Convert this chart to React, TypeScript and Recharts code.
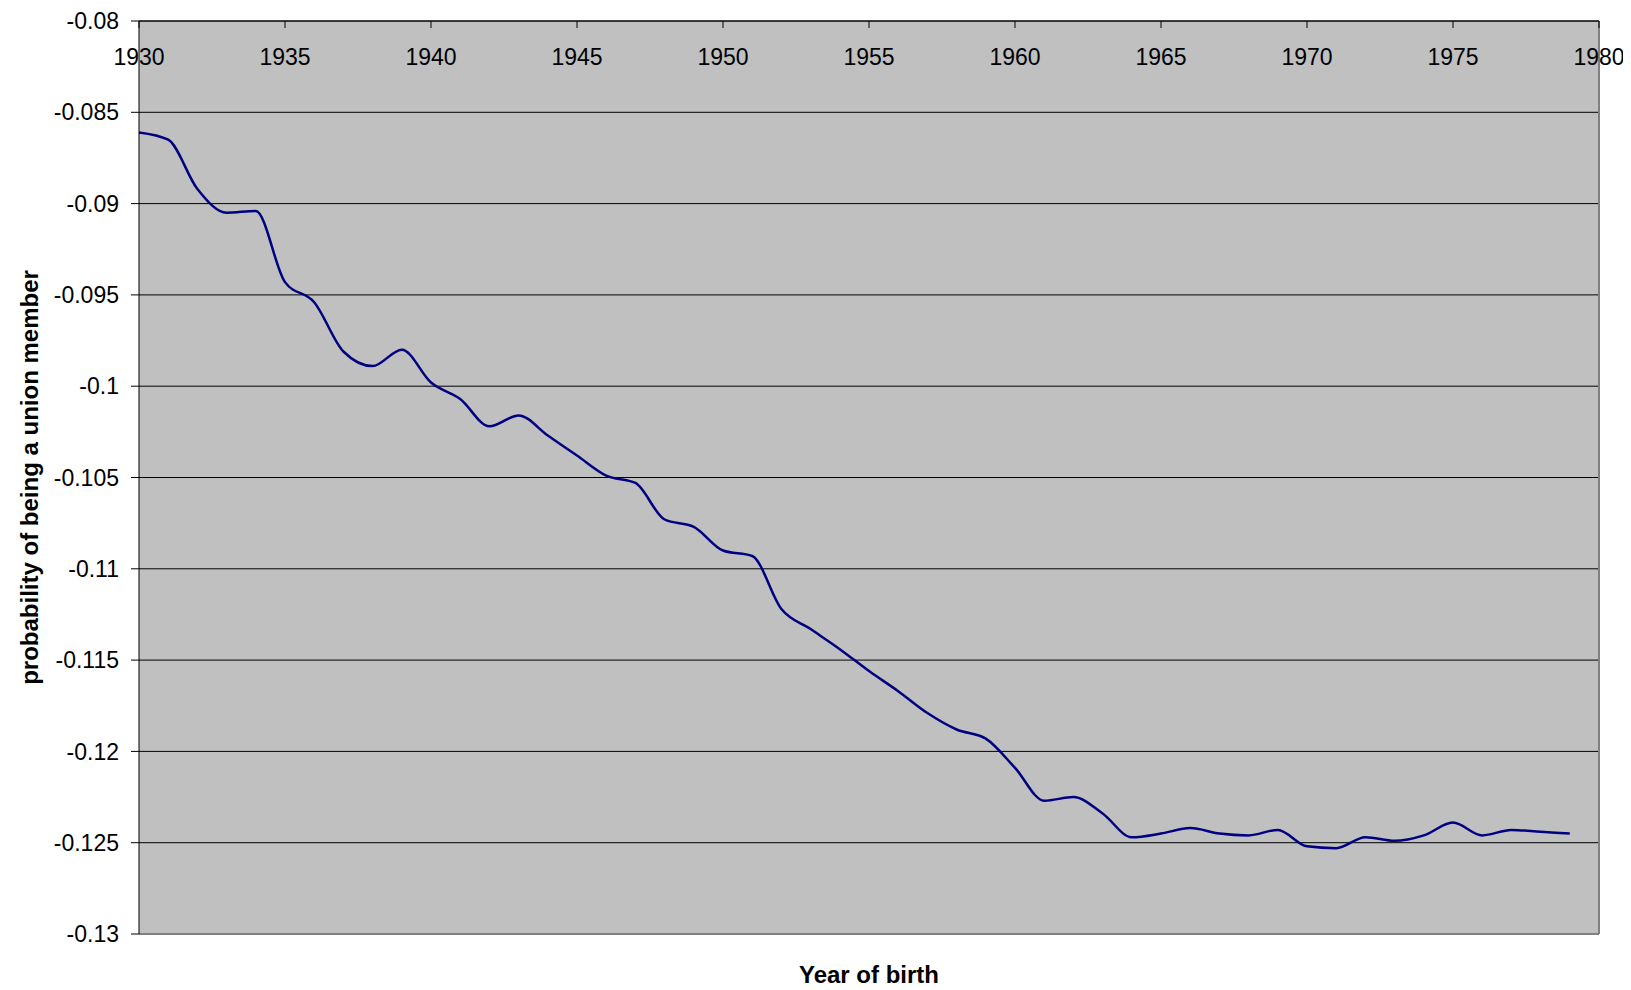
import { LineChart, Line, XAxis, YAxis, CartesianGrid, ReferenceLine } from 'recharts'

const years = [
  1930, 1931, 1932, 1933, 1934, 1935, 1936, 1937, 1938, 1939,
  1940, 1941, 1942, 1943, 1944, 1945, 1946, 1947, 1948, 1949,
  1950, 1951, 1952, 1953, 1954, 1955, 1956, 1957, 1958, 1959,
  1960, 1961, 1962, 1963, 1964, 1965, 1966, 1967, 1968, 1969,
  1970, 1971, 1972, 1973, 1974, 1975, 1976, 1977, 1978, 1979,
]

const probability = [
  -0.0861, -0.0865, -0.0892, -0.0905, -0.0904, -0.0943, -0.0954, -0.0981, -0.0989, -0.098,
  -0.0998, -0.1007, -0.1022, -0.1016, -0.1027, -0.1038, -0.1049, -0.1053, -0.1073, -0.1077,
  -0.109, -0.1093, -0.1122, -0.1133, -0.1144, -0.1156, -0.1167, -0.1179, -0.1188, -0.1193,
  -0.1209, -0.1227, -0.1225, -0.1234, -0.1247, -0.1245, -0.1242, -0.1245, -0.1246, -0.1243,
  -0.1252, -0.1253, -0.1247, -0.1249, -0.1246, -0.1239, -0.1246, -0.1243, -0.1244, -0.1245,
]

const yearTicks = [1930, 1935, 1940, 1945, 1950, 1955, 1960, 1965, 1970, 1975, 1980]

const probabilityTicks = [
  -0.08, -0.085, -0.09, -0.095, -0.1, -0.105, -0.11, -0.115, -0.12, -0.125, -0.13,
]

const data = years.map((year, i) => ({ year, value: probability[i] }))

const tickStyle = { fill: '#000', fontSize: 23 }
const titleStyle = { fill: '#000', fontSize: 24, fontWeight: 'bold', textAnchor: 'middle' }

// year labels sit inside the plot, under short ticks hanging from the top edge
function YearTick({ x, y, payload }: any) {
  return (
    <g>
      <line x1={x} x2={x} y1={y} y2={y + 7} stroke="#000" />
      <text x={x} y={y + 44} textAnchor="middle" fill="#000" fontSize={23}>
        {payload.value}
      </text>
    </g>
  )
}

export default function App() {
  return (
    <div style={{ fontFamily: '"Liberation Sans", Arial, sans-serif' }}>
      <LineChart width={1623} height={982} data={data}
        margin={{ top: 0, right: 32, bottom: 0, left: 0 }}>
        <CartesianGrid horizontal vertical={false} fill="#C0C0C0" stroke="#000" strokeOpacity={1} />
        <XAxis dataKey="year" type="number" domain={[1930, 1980]} ticks={yearTicks}
          orientation="top" height={13} interval={0}
          tick={<YearTick />} tickSize={0} tickMargin={0} tickLine={false}
          axisLine={{ stroke: '#000' }} />
        <XAxis xAxisId="frame" type="number" domain={[1930, 1980]} orientation="bottom"
          height={56} tick={false} tickLine={false} axisLine={false}
          label={{ value: 'Year of birth', position: 'insideBottom', offset: 7, style: titleStyle }} />
        <YAxis type="number" domain={[-0.13, -0.08]} ticks={probabilityTicks} interval={0}
          width={131} tick={tickStyle} tickSize={8} tickMargin={12}
          tickFormatter={(v) => String(v)}
          axisLine={{ stroke: '#000' }} tickLine={{ stroke: '#000' }}
          label={{ value: 'probability of being a union member', angle: -90, position: 'insideLeft', offset: 21, style: titleStyle }} />
        <ReferenceLine y={-0.13} stroke="#808080" strokeWidth={2} />
        <ReferenceLine x={1980} stroke="#808080" strokeWidth={2} />
        <Line type="monotone" dataKey="value" stroke="#000080" strokeWidth={2.5}
          dot={false} activeDot={false} isAnimationActive={false} />
      </LineChart>
    </div>
  )
}
